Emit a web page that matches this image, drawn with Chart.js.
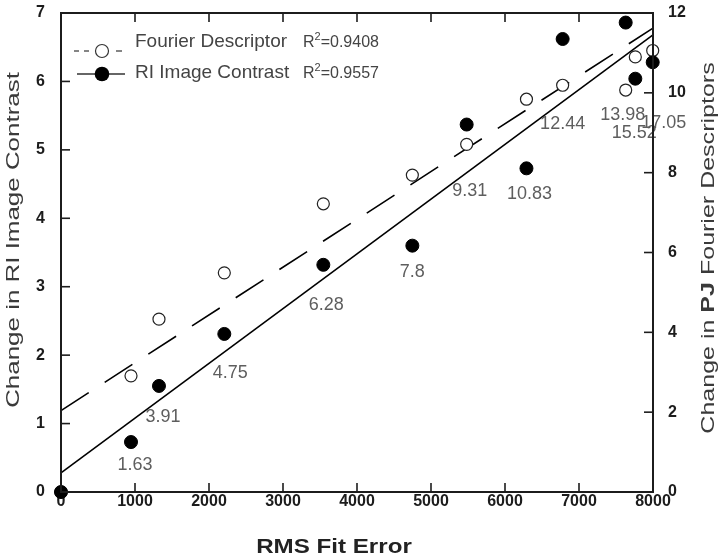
<!DOCTYPE html>
<html>
<head>
<meta charset="utf-8">
<script src="https://cdn.jsdelivr.net/npm/chart.js@4.4.1/dist/chart.umd.min.js"></script>
<style>
  html, body { margin: 0; padding: 0; background: #fff; }
</style>
</head>
<body>
<canvas id="myChart" width="720" height="557"></canvas>
<script>
// data
const rmsError = [0, 946, 1324, 2207, 3545, 4748, 5482, 6290, 6779, 7631, 7761, 7996];
const contrastChange = [0, 0.73, 1.55, 2.31, 3.32, 3.60, 5.37, 4.73, 6.62, 6.86, 6.04, 6.28];
const fourierChange = [0, 2.91, 4.33, 5.49, 7.22, 7.94, 8.71, 9.84, 10.19, 10.07, 10.90, 11.06];
const pointLabels = ["", "1.63", "3.91", "4.75", "6.28", "7.8", "9.31", "10.83", "12.44", "13.98", "15.52", "17.05"];
const fitX = [0, 8000];
const contrastFit = [0.28, 6.68];
const fourierFit = [2.04, 11.62];
const seriesNames = ["Fourier Descriptor", "RI Image Contrast"];
const rSquared = ["0.9408", "0.9557"];

// where each number sits relative to its filled point (px)
const labelOffsets = [[0, 0], [4, 23], [4, 31], [6, 39], [3, 40], [0, 26], [3, 66], [3, 26], [0, 85], [-3, 92], [-1, 54], [11, 61]];

const FONT = "'Liberation Sans', Arial, Helvetica, sans-serif";
const INK = "#1c1c1c";

const toPoints = (xs, ys) => xs.map((x, i) => ({ x: x, y: ys[i] }));

function stretchText(ctx, parts, cx, cy, rot, sx, color) {
  ctx.save();
  ctx.translate(cx, cy);
  ctx.rotate(rot);
  ctx.scale(sx, 1);
  ctx.fillStyle = color;
  ctx.textAlign = "left";
  ctx.textBaseline = "alphabetic";
  let total = 0;
  parts.forEach(p => { ctx.font = p.f; p.w = ctx.measureText(p.t).width; total += p.w; });
  let x = -total / 2;
  parts.forEach(p => { ctx.font = p.f; ctx.fillText(p.t, x, 0); x += p.w; });
  ctx.restore();
}

const decor = {
  id: "decor",
  afterDatasetsDraw(chart) {
    const { ctx, scales } = chart;
    ctx.save();
    ctx.font = "18px " + FONT;
    ctx.fillStyle = "#5e5e5e";
    ctx.textAlign = "center";
    ctx.textBaseline = "middle";
    pointLabels.forEach((t, i) => {
      if (!t) return;
      const px = scales.x.getPixelForValue(rmsError[i]);
      const py = scales.y.getPixelForValue(contrastChange[i]);
      ctx.fillText(t, px + labelOffsets[i][0], py + labelOffsets[i][1]);
    });
    ctx.restore();
  },
  afterDraw(chart) {
    const { ctx, chartArea: a, scales } = chart;
    ctx.save();
    ctx.strokeStyle = INK;
    ctx.lineWidth = 2;
    ctx.strokeRect(a.left, a.top, a.right - a.left, a.bottom - a.top);

    const tick = (x1, y1, x2, y2) => { ctx.beginPath(); ctx.moveTo(x1, y1); ctx.lineTo(x2, y2); ctx.stroke(); };
    ctx.lineWidth = 1.6;
    scales.x.ticks.forEach(t => {
      if (t.value <= 0 || t.value >= 8000) return;
      const px = scales.x.getPixelForValue(t.value);
      tick(px, a.bottom, px, a.bottom - 9);
      tick(px, a.top, px, a.top + 9);
    });
    scales.y.ticks.forEach(t => {
      if (t.value <= 0 || t.value >= 7) return;
      const py = scales.y.getPixelForValue(t.value);
      tick(a.left, py, a.left + 9, py);
    });
    scales.y2.ticks.forEach(t => {
      if (t.value <= 0 || t.value >= 12) return;
      const py = scales.y2.getPixelForValue(t.value);
      tick(a.right, py, a.right - 9, py);
    });

    // legend
    ctx.strokeStyle = "#333";
    ctx.lineWidth = 1.2;
    tick(74, 51, 79, 51);
    tick(84, 51, 89, 51);
    tick(116, 51, 122, 51);
    ctx.beginPath(); ctx.arc(102, 51, 6.5, 0, Math.PI * 2);
    ctx.fillStyle = "#fff"; ctx.fill(); ctx.stroke();
    ctx.lineWidth = 1.4;
    tick(77, 74, 125, 74);
    ctx.beginPath(); ctx.arc(102, 74, 7.3, 0, Math.PI * 2);
    ctx.fillStyle = "#000"; ctx.fill();

    ctx.fillStyle = "#444";
    ctx.textAlign = "left";
    ctx.textBaseline = "alphabetic";
    [47, 78].forEach((by, i) => {
      ctx.font = "19px " + FONT;
      ctx.fillText(seriesNames[i], 135, by);
      ctx.font = "16px " + FONT;
      ctx.fillText("R", 303, by);
      const rw = ctx.measureText("R").width;
      ctx.font = "11px " + FONT;
      ctx.fillText("2", 303 + rw, by - 7);
      const sw = ctx.measureText("2").width;
      ctx.font = "16px " + FONT;
      ctx.fillText("=" + rSquared[i], 303 + rw + sw, by);
    });

    // axis titles
    stretchText(ctx, [{ t: "Change in RI Image Contrast", f: "18px " + FONT }], 19, 240, -Math.PI / 2, 1.44, "#3a3a3a");
    stretchText(ctx, [
      { t: "Change in ", f: "18px " + FONT },
      { t: "PJ", f: "bold 18px " + FONT },
      { t: " Fourier Descriptors", f: "18px " + FONT }
    ], 714, 248, -Math.PI / 2, 1.39, "#3a3a3a");
    stretchText(ctx, [{ t: "RMS Fit Error", f: "bold 21px " + FONT }], 334, 553, 0, 1.15, "#222");
    ctx.restore();
  }
};

const fitY = (w) => (s) => { s.width = w; s.paddingTop = 0; s.paddingBottom = 0; };

const ctx = document.getElementById("myChart");
const myChart = new Chart(ctx, {
  type: "scatter",
  data: {
    datasets: [
      {
        label: seriesNames[1],
        data: toPoints(rmsError, contrastChange),
        yAxisID: "y",
        backgroundColor: "#000",
        borderColor: "#000",
        pointRadius: 6.5,
        order: 0,
      },
      {
        label: seriesNames[0],
        data: toPoints(rmsError, fourierChange),
        yAxisID: "y2",
        backgroundColor: "#fff",
        borderColor: "#222",
        borderWidth: 1.2,
        pointRadius: 6,
        order: 0,
      },
      {
        type: "line",
        label: "contrast fit",
        data: toPoints(fitX, contrastFit),
        yAxisID: "y",
        borderColor: "#000",
        borderWidth: 1.6,
        pointRadius: 0,
        fill: false,
        order: 2,
      },
      {
        type: "line",
        label: "fourier fit",
        data: toPoints(fitX, fourierFit),
        yAxisID: "y2",
        borderColor: "#000",
        borderWidth: 1.6,
        borderDash: [33, 19],
        pointRadius: 0,
        fill: false,
        order: 2,
      },
    ],
  },
  options: {
    responsive: false,
    animation: false,
    devicePixelRatio: 1,
    clip: false,
    layout: { padding: { top: 13, left: 0, right: 0, bottom: 0 } },
    plugins: { legend: { display: false }, tooltip: { enabled: false } },
    scales: {
      x: {
        type: "linear",
        min: 0,
        max: 8000,
        grid: { display: false, drawTicks: false },
        border: { display: false },
        ticks: {
          stepSize: 1000, autoSkip: false, maxRotation: 0, padding: 0, color: INK,
          font: { family: FONT, size: 16, weight: "bold" },
          callback: (v) => String(v),
        },
        afterFit(s) { s.height = 65; s.paddingLeft = 0; s.paddingRight = 0; },
      },
      y: {
        position: "left",
        min: 0,
        max: 7,
        grid: { display: false, drawTicks: false },
        border: { display: false },
        ticks: { stepSize: 1, padding: 16, color: INK, font: { family: FONT, size: 16, weight: "bold" } },
        afterFit: fitY(61),
      },
      y2: {
        position: "right",
        min: 0,
        max: 12,
        grid: { display: false, drawTicks: false },
        border: { display: false },
        ticks: { stepSize: 2, padding: 15, color: INK, font: { family: FONT, size: 16, weight: "bold" } },
        afterFit: fitY(67),
      },
    },
  },
  plugins: [decor],
});
</script>
</body>
</html>
